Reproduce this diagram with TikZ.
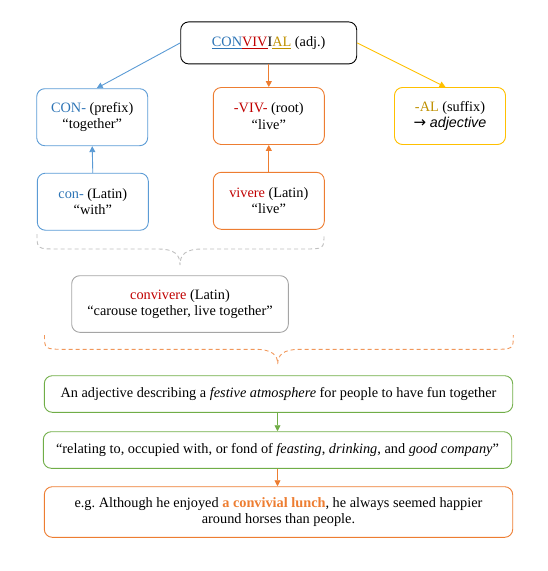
\documentclass[tikz,border=0pt]{standalone}
\usepackage{fontspec}
\setmainfont{Liberation Serif}
\setsansfont{Liberation Sans}
\newfontfamily\simbolo{DejaVu Sans}
\usepackage{tikz}
\usetikzlibrary{arrows.meta}
\usepackage{xcolor}
\definecolor{azul}{HTML}{5B9BD5}
\definecolor{azultxt}{HTML}{2E75B6}
\definecolor{laranja}{HTML}{ED7D31}
\definecolor{ouro}{HTML}{FFC000}
\definecolor{ourotxt}{HTML}{BF9000}
\definecolor{vermelho}{HTML}{C00000}
\definecolor{verde}{HTML}{70AD47}
\definecolor{cinza}{HTML}{A5A5A5}
\definecolor{cinzaclaro}{HTML}{BFBFBF}

\begin{document}
\begin{tikzpicture}[x=1pt, y=-1pt,
    caixa/.style={draw, rounded corners=8pt, line width=0.9pt, align=center,
        inner sep=0pt, font=\fontsize{14.3}{16.5}\selectfont},
    seta/.style={-{Triangle[length=6pt,width=6pt]}, line width=0.9pt},
    chave/.style={line width=0.9pt, dash pattern=on 4pt off 3pt}]
    \useasboundingbox (0,0) rectangle (547,571);
    % Caixas
    \node[caixa, minimum width=176pt, minimum height=42pt] (topo) at (268.7,42.9)
        {\textcolor{azultxt}{\underline{CON}}\textcolor{vermelho}{\underline{VIV}}I\textcolor{ourotxt}{\underline{AL}} (adj.)};
    \node[caixa, azul, minimum width=111pt, minimum height=57pt] (prefixo) at (92.2,117.2)
        {\textcolor{azultxt}{CON-} \textcolor{black}{(prefix)}\\\textcolor{black}{“together”}};
    \node[caixa, laranja, minimum width=111pt, minimum height=57pt] (raiz) at (268.8,116)
        {\textcolor{vermelho}{-VIV-} \textcolor{black}{(root)}\\\textcolor{black}{“live”}};
    \node[caixa, ouro, minimum width=111pt, minimum height=57pt] (sufixo) at (450,116)
        {\textcolor{ourotxt}{-AL} \textcolor{black}{(suffix)}\\\textcolor{black}{{\simbolo\fontsize{15}{16}\selectfont →} {\sffamily\itshape adjective}}};
    \node[caixa, azul, minimum width=111pt, minimum height=57pt] (con) at (92.8,201.7)
        {\textcolor{azultxt}{con-} \textcolor{black}{(Latin)}\\\textcolor{black}{“with”}};
    \node[caixa, laranja, minimum width=111pt, minimum height=57pt] (vivere) at (268.8,200.8)
        {\textcolor{vermelho}{vivere} \textcolor{black}{(Latin)}\\\textcolor{black}{“live”}};
    \node[caixa, cinza, minimum width=216.6pt, minimum height=56.6pt] (convivere) at (180,304)
        {\textcolor{vermelho}{convivere} \textcolor{black}{(Latin)}\\\textcolor{black}{“carouse together, live together”}};
    \node[caixa, verde, minimum width=468.4pt, minimum height=36.6pt] (sentido) at (278.5,394)
        {\textcolor{black}{An adjective describing a \textit{festive atmosphere} for people to have fun together}};
    \node[caixa, verde, minimum width=468.4pt, minimum height=36.6pt] (definicao) at (277.5,450)
        {\textcolor{black}{“relating to, occupied with, or fond of \textit{feasting}, \textit{drinking}, and \textit{good company}”}};
    \node[caixa, laranja, minimum width=468.4pt, minimum height=50.6pt] (exemplo) at (278.5,512)
        {\textcolor{black}{e.g.\ Although he enjoyed \textcolor{laranja}{\textbf{a convivial lunch}}, he always seemed happier}\\
         \textcolor{black}{around horses than people.}};
    % Setas
    \draw[seta, azul] (topo.west) -- ([xshift=4.5pt]prefixo.north);
    \draw[seta, laranja] (topo.south -| raiz.north) -- (raiz.north);
    \draw[seta, ouro] (topo.east) -- ([xshift=-4.5pt]sufixo.north);
    \draw[seta, azul] (con.north) -- (prefixo.south);
    \draw[seta, laranja] (vivere.north) -- (raiz.south);
    \draw[seta, verde] (sentido.south -| definicao.north) -- (definicao.north);
    \draw[seta, laranja] (definicao.south) -- (definicao.south |- exemplo.north);
    % Chaves
    \draw[chave, cinzaclaro] (37,234) .. controls (37,249) .. (58,249) -- (158,249)
        .. controls (175,249) and (180,255) .. (180,265)
        .. controls (180,255) and (185,249) .. (202,249) -- (303,249)
        .. controls (324,249) .. (324,234);
    \draw[chave, laranja!80] (44.5,335) .. controls (44.5,349.3) .. (66,349.3) -- (255,349.3)
        .. controls (272,349.3) and (277.7,355) .. (277.7,364)
        .. controls (277.7,355) and (283,349.3) .. (300,349.3) -- (492,349.3)
        .. controls (513.3,349.3) .. (513.3,335);
\end{tikzpicture}
\end{document}
